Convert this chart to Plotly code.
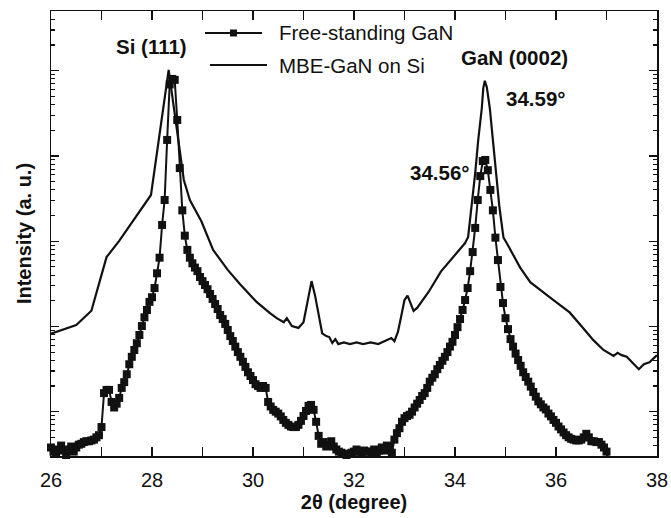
import plotly.graph_objects as go

# ---------------- data ----------------
# Free-standing GaN (square markers), 2theta in degrees
fs_theta = [
    26.00, 26.05, 26.10, 26.15, 26.20, 26.25, 26.30, 26.35, 26.40, 26.45,
    26.50, 26.55, 26.60, 26.65, 26.70, 26.75, 26.80, 26.85, 26.90, 26.95,
    27.00, 27.05, 27.10, 27.15, 27.20, 27.25, 27.30, 27.35, 27.40, 27.45,
    27.50, 27.55, 27.60, 27.65, 27.70, 27.75, 27.80, 27.85, 27.90, 27.95,
    28.00, 28.05, 28.10, 28.15, 28.20, 28.25, 28.30, 28.35, 28.40, 28.45,
    28.50, 28.55, 28.60, 28.65, 28.70, 28.75, 28.80, 28.85, 28.90, 28.95,
    29.00, 29.05, 29.10, 29.15, 29.20, 29.25, 29.30, 29.35, 29.40, 29.45,
    29.50, 29.55, 29.60, 29.65, 29.70, 29.75, 29.80, 29.85, 29.90, 29.95,
    30.00, 30.05, 30.10, 30.15, 30.20, 30.25, 30.30, 30.35, 30.40, 30.45,
    30.50, 30.55, 30.60, 30.65, 30.70, 30.75, 30.80, 30.85, 30.90, 30.95,
    31.00, 31.05, 31.10, 31.15, 31.20, 31.25, 31.30, 31.35, 31.40, 31.45,
    31.50, 31.55, 31.60, 31.65, 31.70, 31.75, 31.80, 31.85, 31.90, 31.95,
    32.00, 32.05, 32.10, 32.15, 32.20, 32.25, 32.30, 32.35, 32.40, 32.45,
    32.50, 32.55, 32.60, 32.65, 32.70, 32.75, 32.80, 32.85, 32.90, 32.95,
    33.00, 33.05, 33.10, 33.15, 33.20, 33.25, 33.30, 33.35, 33.40, 33.45,
    33.50, 33.55, 33.60, 33.65, 33.70, 33.75, 33.80, 33.85, 33.90, 33.95,
    34.00, 34.05, 34.10, 34.15, 34.20, 34.25, 34.30, 34.35, 34.40, 34.45,
    34.50, 34.55, 34.60, 34.65, 34.70, 34.75, 34.80, 34.85, 34.90, 34.95,
    35.00, 35.05, 35.10, 35.15, 35.20, 35.25, 35.30, 35.35, 35.40, 35.45,
    35.50, 35.55, 35.60, 35.65, 35.70, 35.75, 35.80, 35.85, 35.90, 35.95,
    36.00, 36.05, 36.10, 36.15, 36.20, 36.25, 36.30, 36.35, 36.40, 36.45,
    36.50, 36.55, 36.60, 36.65, 36.70, 36.75, 36.80, 36.85, 36.90, 36.95,
    37.00, 37.05, 37.15, 37.30,
]
fs_intensity = [
    38, 34, 33, 36, 40, 35, 31, 36, 39, 34,
    38, 41, 42, 44, 45, 45, 46, 47, 50, 53,
    66, 165, 180, 180, 130, 112, 124, 145, 190, 222,
    275, 360, 440, 529, 635, 793, 1010, 1280, 1560, 1940,
    2200, 2820, 4200, 6400, 15500, 30400, 154000, 690000, 800000, 780000,
    264000, 72000, 23000, 11600, 7900, 6400, 5500, 4900, 4450, 3800,
    3400, 3060, 2730, 2400, 2100, 1830, 1600, 1360, 1220, 1070,
    908, 770, 675, 580, 500, 440, 385, 335, 290, 262,
    235, 210, 200, 190, 200, 190, 130, 115, 105, 100,
    95, 88, 80, 74, 70, 67, 66, 66, 70, 78,
    89, 102, 117, 120, 105, 76, 52, 42, 44, 39,
    40, 45, 39, 36, 34, 33, 32, 31, 32, 33,
    34, 36, 34, 33, 35, 34, 34, 33, 36, 33,
    35, 38, 35, 40, 39, 33, 47, 56, 64, 76,
    84, 89, 92, 100, 112, 124, 137, 153, 165, 190,
    225, 250, 275, 315, 353, 395, 440, 500, 580, 660,
    793, 980, 1220, 1560, 2040, 2820, 4450, 7450, 14300, 30400,
    58000, 87000, 89700, 68000, 39900, 23000, 11000, 6000, 2900, 1880,
    1250, 930, 710, 580, 480, 404, 345, 290, 255, 225,
    197, 170, 150, 132, 122, 112, 106, 95, 88, 80,
    74, 67, 62, 57, 53, 50, 48, 47, 46, 46,
    47, 50, 55, 50, 45, 45, 44, 44, 41, 38,
    34, 27, None, 29,
]

# MBE-GaN on Si (solid line)
mbe_theta = [
    26.00, 26.50, 26.80, 27.10, 27.35, 27.98, 28.33, 28.63, 28.75, 28.98,
    29.21, 29.50, 29.74, 30.07, 30.33, 30.47, 30.61, 30.67, 30.77, 30.90,
    31.00, 31.07, 31.16, 31.23, 31.29, 31.37, 31.45, 31.51, 31.57, 31.63,
    31.69, 31.80, 31.92, 32.05, 32.18, 32.33, 32.48, 32.60, 32.68, 32.74,
    32.80, 32.87, 32.94, 33.00, 33.06, 33.12, 33.18, 33.25, 33.48, 33.72,
    34.06, 34.20, 34.26, 34.33, 34.40, 34.46, 34.53, 34.56, 34.59, 34.63,
    34.69, 34.75, 34.81, 34.88, 34.96, 35.02, 35.29, 35.49, 35.95, 36.27,
    36.54, 36.74, 36.94, 37.14, 37.22, 37.30, 37.40, 37.55, 37.64, 37.74,
    37.85, 38.00,
]
mbe_intensity = [
    820, 1040, 1530, 6500, 10100, 34800, 1020000, 52200, 30400, 17000,
    7900, 4600, 3150, 1940, 1440, 1250, 1120, 1250, 1010, 960,
    1120, 1780, 3400, 2280, 1500, 830, 770, 750, 640, 710,
    620, 650, 620, 650, 620, 650, 620, 670, 690, 730,
    670, 860, 1360, 2040, 2300, 1880, 1520, 1650, 2550, 4400,
    7700, 9500, 11200, 25000, 63000, 154000, 360000, 620000, 760000, 640000,
    360000, 154000, 63000, 25000, 11000, 9600, 4900, 3300, 2040, 1460,
    950, 690, 530, 450, 490, 460, 440, 360, 315, 360,
    380, 460,
]

x_ticks = [26, 28, 30, 32, 34, 36, 38]
y_decades = [1e2, 1e3, 1e4, 1e5, 1e6]
y_minor = [m * d for d in [1e1, 1e2, 1e3, 1e4, 1e5, 1e6] for m in range(2, 10)]

series_names = ["Free-standing GaN", "MBE-GaN on Si"]
peak_labels = ["Si (111)", "GaN (0002)", "34.59°", "34.56°"]

# ---------------- figure ----------------
W, H = 671, 518
L, R, T, B = 51, 14, 11, 62
FONT = "Liberation Sans, Arial, sans-serif"
INK = "#111111"
y_range = [1.480, 6.700]

fig = go.Figure()
fig.add_trace(go.Scatter(
    x=fs_theta, y=fs_intensity, mode="lines+markers", name=series_names[0],
    line=dict(color=INK, width=2),
    marker=dict(symbol="square", size=8, color=INK),
    cliponaxis=False, showlegend=False, connectgaps=False,
))
fig.add_trace(go.Scatter(
    x=mbe_theta, y=mbe_intensity, mode="lines", name=series_names[1],
    line=dict(color=INK, width=2.2), yaxis="y2", showlegend=False,
))

fig.update_layout(
    width=W, height=H,
    margin=dict(l=L, r=R, t=T, b=B, autoexpand=False),
    paper_bgcolor="white", plot_bgcolor="white",
    font=dict(family=FONT, color=INK, size=20),
    xaxis=dict(
        range=[26, 38], tickvals=x_ticks, ticks="inside", ticklen=9, tickwidth=1.3,
        tickcolor=INK, showline=True, linecolor=INK, linewidth=1.5, mirror="allticks",
        showgrid=False, zeroline=False, tickfont=dict(size=20, family=FONT),
        minor=dict(dtick=1, tick0=26, ticks="inside", ticklen=5, tickwidth=1.1, tickcolor=INK, showgrid=False),
        title=dict(text="2θ (degree)", font=dict(size=20, family=FONT, weight="bold"), standoff=4),
        ticklabelstandoff=5, automargin=False,
    ),
    yaxis=dict(
        type="log", range=y_range, tickvals=y_decades, ticks="inside", ticklen=8,
        tickwidth=1.3, tickcolor=INK, showticklabels=False, showline=True,
        linecolor=INK, linewidth=1.5, mirror="allticks", showgrid=False, zeroline=False,
        title=dict(text="Intensity (a. u.)", font=dict(size=20, family=FONT, weight="bold"), standoff=12),
        automargin=False,
    ),
    yaxis2=dict(
        type="log", range=y_range, overlaying="y", side="left", tickvals=y_minor,
        ticks="inside", ticklen=4, tickwidth=1.1, tickcolor=INK, showticklabels=False,
        showline=False, mirror="allticks", showgrid=False, zeroline=False, automargin=False,
    ),
)

# peak labels
def px_to_paper(px, py):
    return (px - L) / (W - L - R), (H - B - py) / (H - T - B)

label_pos = [(151, 47), (514, 58), (536, 99), (440, 173)]
for txt, (px, py) in zip(peak_labels, label_pos):
    xp, yp = px_to_paper(px, py)
    fig.add_annotation(x=xp, y=yp, xref="paper", yref="paper", text=txt, showarrow=False,
                       font=dict(size=20.5, family=FONT, weight="bold", color=INK),
                       xanchor="center", yanchor="middle")

# manual legend
leg = [((205, 262), 33, True), ((210, 267), 65, False)]
for name, ((x0, x1), py, mk) in zip(series_names, leg):
    a0, yp = px_to_paper(x0, py)
    a1, _ = px_to_paper(x1, py)
    fig.add_shape(type="line", xref="paper", yref="paper", x0=a0, x1=a1, y0=yp, y1=yp,
                  line=dict(color=INK, width=2))
    if mk:
        xm, _ = px_to_paper((x0 + x1) / 2, py)
        fig.add_shape(type="rect", xref="paper", yref="paper", xsizemode="pixel", ysizemode="pixel",
                      xanchor=xm, yanchor=yp, x0=-3.5, x1=3.5, y0=-3.5, y1=3.5,
                      fillcolor=INK, line=dict(width=0))
    xt, _ = px_to_paper(277, py)
    fig.add_annotation(x=xt, y=yp, xref="paper", yref="paper", text=name, showarrow=False,
                       font=dict(size=20.5, family=FONT, color=INK), xanchor="left", yanchor="middle")

fig.write_html(
    "out.html",
    config={"displayModeBar": False, "staticPlot": True},
    post_script="document.body.style.margin='0px';document.body.style.overflow='hidden';",
)
